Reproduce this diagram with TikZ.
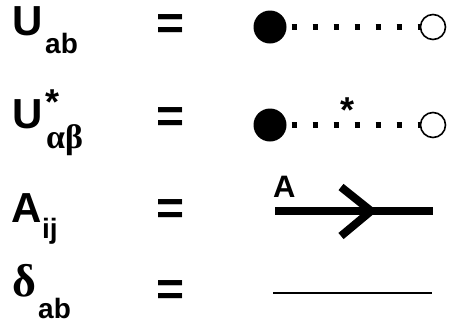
\documentclass[tikz,border=0pt]{standalone}
\usepackage{fontspec}
\setmainfont{Liberation Sans}
\newfontfamily\grk{Liberation Serif}
\begin{document}
\begin{tikzpicture}[x=1pt,y=-1pt,
  big/.style={font=\fontsize{42}{42}\selectfont\bfseries, inner sep=0pt, anchor=base west},
  sub/.style={font=\fontsize{28}{28}\selectfont\bfseries, inner sep=0pt, anchor=base west},
  starlbl/.style={font=\fontsize{36}{36}\selectfont\bfseries, inner sep=0pt},
  eqsign/.style={font=\fontsize{48}{48}\selectfont\bfseries, inner sep=0pt},
  fdot/.style={circle, fill=black, minimum size=33pt, inner sep=0pt},
  odot/.style={circle, draw=black, line width=1.6pt, minimum size=25pt, inner sep=0pt},
  dotline/.style={line width=6pt, dash pattern=on 5pt off 16pt, dash phase=16pt},
  thick line/.style={line width=8pt},
]
\useasboundingbox (0,0) rectangle (449,325);
% row 1
\node[big] (U1) at (12,35) {U};
\node[sub] (s1) at (45,53) {ab};
\node[eqsign] (e1) at (171,27) {=};
\node[fdot] (f1) at (270,27) {};
\node[odot] (o1) at (433,27) {};
\draw[dotline] (f1.east) -- (o1.west);
% row 2
\node[big] (U2) at (12,128) {U};
\node[starlbl, anchor=base west] (st2) at (45,114) {*};
\node[font=\fontsize{34}{34}\selectfont\grk\bfseries, inner sep=0pt, anchor=base west] (s2) at (46,148) {αβ};
\node[eqsign] (e2) at (171,120) {=};
\node[fdot] (f2) at (270,125) {};
\node[odot] (o2) at (433,125) {};
\draw[dotline] (f2.east) -- (o2.west);
\node[starlbl, anchor=base] (st3) at (347,122) {*};
% row 3
\node[big] (A3) at (11,222) {A};
\node[sub] (s3) at (42,238) {ij};
\node[eqsign] (e3) at (171,212) {=};
\coordinate (a1) at (275,211);
\coordinate (a2) at (433,211);
\draw[thick line] (a1) -- (a2);
\coordinate (c1) at (341,187);
\coordinate (c2) at (371,211);
\coordinate (c3) at (341,236);
\draw[thick line, line join=miter] (c1) -- (c2) -- (c3);
\node[font=\fontsize{31}{31}\selectfont\bfseries, inner sep=0pt, anchor=base west] (lA) at (273,197) {A};
% row 4
\node[font=\fontsize{46}{46}\selectfont\grk\bfseries, inner sep=0pt, anchor=base west] (d4) at (12,296) {δ};
\node[sub] (s4) at (38,318) {ab};
\node[eqsign] (e4) at (171,293) {=};
\coordinate (l1) at (273,293);
\coordinate (l2) at (432,293);
\draw[line width=2pt] (l1) -- (l2);
\end{tikzpicture}
\end{document}
